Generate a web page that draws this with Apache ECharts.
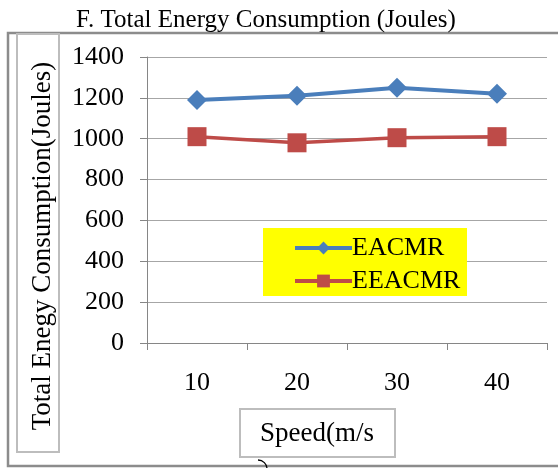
<!DOCTYPE html>
<html>
<head>
<meta charset="utf-8">
<script src="https://cdn.jsdelivr.net/npm/echarts@6/dist/echarts.min.js"></script>
<style>
  html, body { margin: 0; padding: 0; background: #fff; }
  #chart { width: 558px; height: 468px; }
</style>
</head>
<body>
<div id="chart"></div>
<script>
// Speed categories (m/s)
var speeds = ['10', '20', '30', '40'];
// Total energy consumption per protocol (Joules)
var eacmr = [1190, 1210, 1250, 1220];
var eeacmr = [1010, 980, 1005, 1010];
// Y axis range
var yMin = 0, yMax = 1400, yStep = 200;

var serif = '"Liberation Serif", "Times New Roman", serif';
var chart = echarts.init(document.getElementById('chart'), null, { renderer: 'canvas' });

chart.setOption({
  backgroundColor: '#ffffff',
  animation: false,
  title: {
    text: 'F. Total Energy Consumption (Joules)',
    left: 261, top: 3, textAlign: 'center',
    textStyle: { fontFamily: serif, fontSize: 25, fontWeight: 'normal', color: '#000' }
  },
  graphic: [
    // outer frame
    { type: 'polyline', shape: { points: [[558, 33], [8, 33], [8, 466], [558, 466]] },
      style: { stroke: '#8c8c8c', lineWidth: 2.5, fill: null }, z: 1 },
    // y axis title box
    { type: 'rect', shape: { x: 17, y: 34, width: 42, height: 418 },
      style: { stroke: '#bdbdbd', lineWidth: 2, fill: '#fff' }, z: 2 },
    { type: 'text', x: 43, y: 246, rotation: Math.PI / 2,
      style: { text: 'Total Enegy Consumption(Joules)', fontFamily: serif, fontSize: 27,
               fill: '#000', align: 'center', verticalAlign: 'middle' }, z: 3 },
    // x axis title box
    { type: 'rect', shape: { x: 240, y: 409, width: 155, height: 48 },
      style: { stroke: '#bdbdbd', lineWidth: 2, fill: '#fff' }, z: 2 },
    { type: 'text', x: 317, y: 434,
      style: { text: 'Speed(m/s', fontFamily: serif, fontSize: 27, fill: '#000',
               align: 'center', verticalAlign: 'middle' }, z: 3 },
    { type: 'arc', shape: { cx: 258, cy: 469, r: 9, startAngle: -Math.PI / 2, endAngle: 0 },
      style: { stroke: '#000', lineWidth: 1.3, fill: null }, z: 3 },
    // legend background
    { type: 'rect', shape: { x: 263, y: 228, width: 204, height: 68 },
      style: { fill: '#ffff00' }, z: 5 }
  ],
  legend: {
    left: 288, top: 230, orient: 'vertical', itemGap: 7,
    itemWidth: 57, itemHeight: 16, z: 10,
    lineStyle: { width: 4 },
    textStyle: { fontFamily: serif, fontSize: 26, color: '#000', padding: [0, 0, 0, -5] },
    data: ['EACMR', 'EEACMR']
  },
  grid: { left: 147, top: 57, width: 400, height: 286, containLabel: false },
  xAxis: {
    type: 'category', data: speeds, boundaryGap: true,
    axisLine: { lineStyle: { color: '#868686', width: 1 } },
    axisTick: { show: true, length: 7, lineStyle: { color: '#868686' } },
    axisLabel: { fontFamily: serif, fontSize: 26, color: '#000', margin: 27 },
    splitLine: { show: false }
  },
  yAxis: {
    type: 'value', min: yMin, max: yMax, interval: yStep,
    axisLine: { show: true, lineStyle: { color: '#868686', width: 1 } },
    axisTick: { show: true, length: 7, lineStyle: { color: '#868686' } },
    axisLabel: { fontFamily: serif, fontSize: 26, color: '#000', margin: 23,
                 formatter: function (v) { return String(v); } },
    splitLine: { show: true, lineStyle: { color: '#a6a6a6', width: 1 } }
  },
  series: [
    { name: 'EACMR', type: 'line', data: eacmr,
      symbol: 'diamond', symbolSize: [20, 20],
      lineStyle: { color: '#4a7ebb', width: 4 },
      itemStyle: { color: '#4a7ebb' }, z: 4 },
    { name: 'EEACMR', type: 'line', data: eeacmr,
      symbol: 'rect', symbolSize: 19,
      lineStyle: { color: '#be4b48', width: 3.5 },
      itemStyle: { color: '#be4b48' }, z: 3 }
  ]
});
</script>
</body>
</html>
